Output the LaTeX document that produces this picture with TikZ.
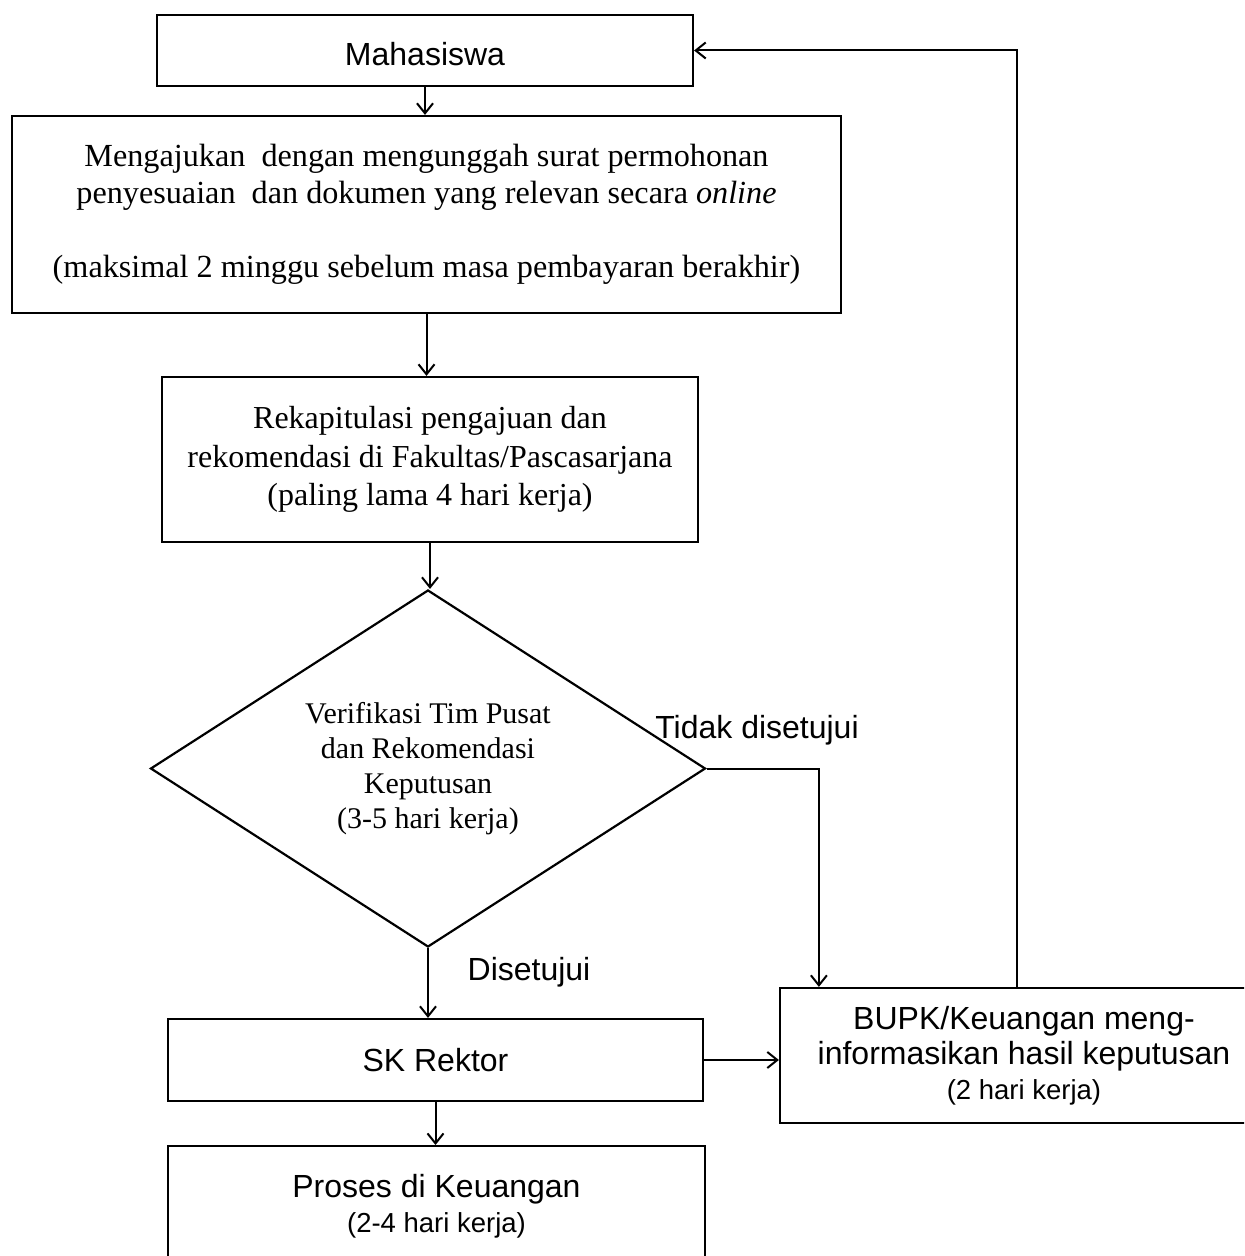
\documentclass[tikz,border=0pt]{standalone}
\usepackage{fontspec}
\setmainfont{Liberation Serif}
\setsansfont{Liberation Sans}
\usetikzlibrary{arrows.meta,shapes.geometric}

\begin{document}
\begin{tikzpicture}[
  x=0.5pt,
  y=-0.5pt,
  line join=miter,
  box/.style={
    draw=black,
    line width=1.1pt,
    rectangle,
    inner sep=0pt,
    align=center
  },
  decision/.style={
    diamond,
    aspect=1.55,
    draw=black,
    line width=1.1pt,
    inner sep=0pt,
    align=center,
    font=\rmfamily\fontsize{15}{17.5}\selectfont
  },
  sanstext/.style={font=\sffamily\fontsize{16}{17.5}\selectfont},
  seriftext/.style={font=\rmfamily\fontsize{16.1}{18.5}\selectfont},
  edgelabel/.style={
    font=\sffamily\fontsize{16}{19}\selectfont,
    inner sep=0pt
  },
  arrow/.style={
    -{Straight Barb[length=5pt,width=8pt]},
    draw=black,
    line width=1pt
  }
]

% Page frame: the lower box and the right box run past the edge.
\useasboundingbox (0,0) rectangle (1244,1256);
\clip (0,0) rectangle (1244,1256);

% ---------------------------------------------------------------------------
% Main column.
% ---------------------------------------------------------------------------
\node[box,sanstext,minimum width=268pt,minimum height=35.5pt]
  (mhs) at (425,50.5) {\raisebox{-2pt}[\height][\depth]{Mahasiswa}};

\node[box,seriftext,minimum width=414.5pt,minimum height=98.5pt]
  (req) at (426.5,214.5)
  {Mengajukan\ \ dengan mengunggah surat permohonan\\
   penyesuaian\ \ dan dokumen yang relevan secara \textit{online}\\[18.5pt]
   (maksimal 2 minggu sebelum masa pembayaran berakhir)};

\node[box,font=\rmfamily\fontsize{16}{19.25}\selectfont,
      minimum width=268pt,minimum height=82.5pt]
  (rekap) at (430,459.5)
  {Rekapitulasi pengajuan dan\\
   rekomendasi di Fakultas/Pascasarjana\\
   (paling lama 4 hari kerja)};

\node[decision,minimum width=277.5pt,minimum height=178.5pt]
  (verif) at (428,768.5)
  {Verifikasi Tim Pusat\\ dan Rekomendasi\\ Keputusan\\ (3-5 hari kerja)};

\node[box,sanstext,minimum width=267.5pt,minimum height=41pt]
  (sk) at (435.5,1060) {SK Rektor};

\node[box,sanstext,anchor=north,minimum width=268.5pt,minimum height=60pt]
  (proses) at (436.5,1145)
  {Proses di Keuangan\\
   {\fontsize{13.75}{17}\selectfont (2-4 hari kerja)}};

% Right-hand box.
\node[box,sanstext,minimum width=244pt,minimum height=67.5pt]
  (bupk) at (1024,1055.5)
  {BUPK/Keuangan meng-\\
   informasikan hasil keputusan\\
   {\fontsize{13.75}{17.5}\selectfont (2 hari kerja)}};

% Branch labels.
\node[edgelabel] (tdklbl) at (757,730) {Tidak disetujui};
\node[edgelabel] (setlbl) at (529,972) {Disetujui};

% ---------------------------------------------------------------------------
% Connectors.
% ---------------------------------------------------------------------------
\draw[arrow] (mhs.south) -- (mhs.south |- req.north);
\draw[arrow] (req.south) -- (req.south |- rekap.north);
\draw[arrow] (rekap.south) -- (rekap.south |- verif.north);
\draw[arrow] (verif.south) -- (verif.south |- sk.north);
\draw[arrow] (sk.south) -- (sk.south |- proses.north);
\draw[arrow] (sk.east) -- (sk.east -| bupk.west);

% Rejected branch and the report back to the student.
\draw[arrow] (verif.east) -| ([xshift=20pt]bupk.north west);
\draw[arrow] ([xshift=-3.5pt]bupk.north) |- (mhs.east);

\end{tikzpicture}
\end{document}
